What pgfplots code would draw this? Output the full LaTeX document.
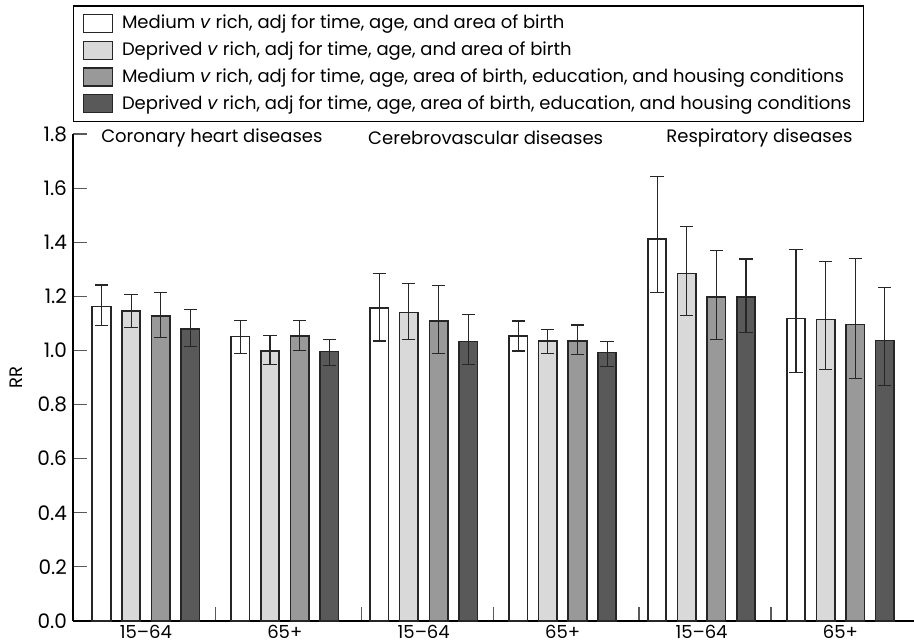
\documentclass[border=0pt]{standalone}
\usepackage{fontspec}
\setmainfont{Poppins}
\usepackage{pgfplots}
\usepackage{pgfplotstable}
\pgfplotsset{compat=1.18}
\definecolor{cLight}{HTML}{D9D9D9}
\definecolor{cMid}{HTML}{999999}
\definecolor{cDark}{HTML}{595959}

% x = group position (0..5) plus the bar's offset within the group
\pgfplotstableread{
x y ep em
-0.32 1.163 0.079 0.072
0.68 1.051 0.061 0.061
1.68 1.157 0.127 0.122
2.68 1.054 0.055 0.056
3.68 1.411 0.232 0.198
4.68 1.118 0.255 0.200
}\serA
\pgfplotstableread{
x y ep em
-0.107 1.145 0.063 0.059
0.893 0.998 0.056 0.050
1.893 1.140 0.106 0.100
2.893 1.035 0.043 0.047
3.893 1.284 0.175 0.155
4.893 1.114 0.215 0.184
}\serB
\pgfplotstableread{
x y ep em
0.107 1.128 0.086 0.079
1.107 1.054 0.058 0.054
2.107 1.108 0.132 0.118
3.107 1.035 0.059 0.050
4.107 1.197 0.172 0.157
5.107 1.096 0.245 0.200
}\serC
\pgfplotstableread{
x y ep em
0.32 1.080 0.071 0.064
1.32 0.996 0.045 0.050
2.32 1.033 0.100 0.085
3.32 0.992 0.042 0.052
4.32 1.197 0.141 0.130
5.32 1.037 0.196 0.165
}\serD

\begin{document}
\begin{tikzpicture}[font=\fontsize{9}{10.8}\selectfont]
\path[use as bounding box] (0,0) rectangle (457pt,321pt);
\begin{axis}[
  at={(36.5pt,10.5pt)}, anchor=south west,
  scale only axis, width=420.5pt, height=243.5pt,
  xmin=-0.525, xmax=5.53, ymin=0, ymax=1.8,
  clip=false,
  axis x line=bottom, axis y line=left,
  axis line style={-, line width=0.6pt, black},
  tick align=inside,
  major tick length=7pt,
  tick style={black!65, line width=0.6pt},
  ytick={0,0.2,0.4,0.6,0.8,1.0,1.2,1.4,1.6,1.8},
  yticklabel style={/pgf/number format/fixed, /pgf/number format/fixed zerofill, /pgf/number format/precision=1, /pgf/number format/assume math mode=true, font=\fontsize{10}{12}\selectfont, xshift=0.5pt},
  xtick={0.5,1.55,2.5,3.55,4.5},
  xticklabels={},
  extra x ticks={0,1,2,3,4,5},
  extra x tick labels={15--64,65+,15--64,65+,15--64,65+},
  extra x tick style={major tick length=0pt},
  xticklabel style={inner sep=0pt, yshift=-2pt},
  ylabel={RR},
  every axis y label/.style={at={(axis description cs:-0.067,0.5)}, rotate=90, anchor=center},
  legend cell align=left,
  legend image code/.code={\draw[#1, line width=0.6pt] (0pt,-4.5pt) rectangle (14.5pt,4.5pt);},
  legend style={at={(0,1)}, anchor=south west, yshift=6pt, draw=black, line width=0.6pt,
    inner xsep=4.5pt, inner ysep=3pt, row sep=1.8pt, column sep=3pt, nodes={inner sep=1.6pt}},
  error bars/error bar style={line width=0.55pt, black!85},
  error bars/error mark options={rotate=90, mark size=3.3pt, line width=0.55pt, black!85},
]
\addplot[ybar, bar width=0.133, bar shift=0, fill=white, draw=black!85, line width=0.8pt,
  error bars/.cd, y dir=both, y explicit]
  table[x=x, y=y, y error plus=ep, y error minus=em]{\serA};
\addlegendentry{Medium \textit{v} rich, adj for time, age, and area of birth}
\addplot[ybar, bar width=0.133, bar shift=0, fill=cLight, draw=black!85, line width=0.8pt,
  error bars/.cd, y dir=both, y explicit]
  table[x=x, y=y, y error plus=ep, y error minus=em]{\serB};
\addlegendentry{Deprived \textit{v} rich, adj for time, age, and area of birth}
\addplot[ybar, bar width=0.133, bar shift=0, fill=cMid, draw=black!85, line width=0.8pt,
  error bars/.cd, y dir=both, y explicit]
  table[x=x, y=y, y error plus=ep, y error minus=em]{\serC};
\addlegendentry{Medium \textit{v} rich, adj for time, age, area of birth, education, and housing conditions}
\addplot[ybar, bar width=0.133, bar shift=0, fill=cDark, draw=black!85, line width=0.8pt,
  error bars/.cd, y dir=both, y explicit]
  table[x=x, y=y, y error plus=ep, y error minus=em]{\serD};
\addlegendentry{Deprived \textit{v} rich, adj for time, age, area of birth, education, and housing conditions}
\node at (axis cs:0.475,1.785) {Coronary heart diseases};
\node at (axis cs:2.446,1.785) {Cerebrovascular diseases};
\node at (axis cs:4.417,1.785) {Respiratory diseases};
\end{axis}
\end{tikzpicture}
\end{document}
